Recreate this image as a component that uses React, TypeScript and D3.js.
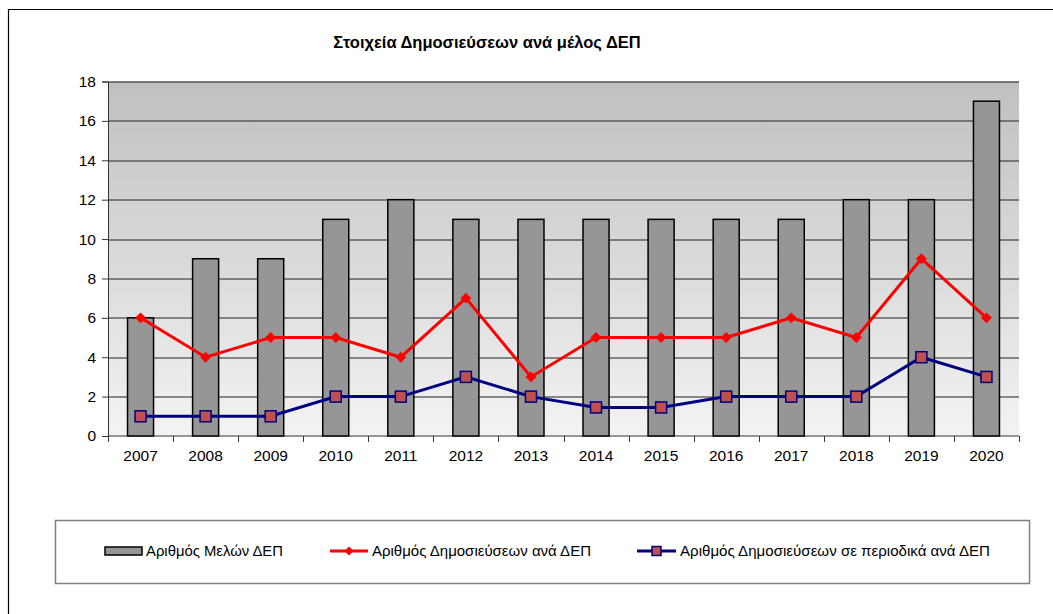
import React, { useEffect, useRef } from 'react'
import * as d3 from 'd3'

// chart data
const years = ['2007', '2008', '2009', '2010', '2011', '2012', '2013', '2014', '2015', '2016', '2017', '2018', '2019', '2020']
const members = [6, 9, 9, 11, 12, 11, 11, 11, 11, 11, 11, 12, 12, 17]
const pubsPerMember = [6, 4, 5, 5, 4, 7, 3, 5, 5, 5, 6, 5, 9, 6]
const journalPubsPerMember = [1, 1, 1, 2, 2, 3, 2, 1.45, 1.45, 2, 2, 2, 4, 3]
const yTicks = [0, 2, 4, 6, 8, 10, 12, 14, 16, 18]

const title = 'Στοιχεία Δημοσιεύσεων ανά μέλος ΔΕΠ'
const legendLabels = ['Αριθμός Μελών ΔΕΠ', 'Αριθμός Δημοσιεύσεων  ανά ΔΕΠ', 'Αριθμός Δημοσιεύσεων  σε περιοδικά ανά ΔΕΠ']

export default function App() {
  const ref = useRef<SVGSVGElement>(null)

  useEffect(() => {
    const W = 1053, H = 614
    const margin = { top: 81.5, right: 34, bottom: 178, left: 108 }
    const width = W - margin.left - margin.right
    const height = H - margin.top - margin.bottom
    const font = 'Liberation Sans, Arial, sans-serif'

    const svg = d3.select(ref.current)
    svg.selectAll('*').remove()

    // outer frame (only top and left edges visible)
    svg.append('path')
      .attr('d', 'M8.5,614 L8.5,9.5 L1053,9.5')
      .attr('fill', 'none')
      .attr('stroke', '#000')
      .attr('stroke-width', 1.2)

    // title
    svg.append('text')
      .attr('x', 487)
      .attr('y', 48)
      .attr('text-anchor', 'middle')
      .attr('font-family', font)
      .attr('font-weight', 'bold')
      .attr('font-size', 16.5)
      .text(title)

    // gradient for plot background
    const defs = svg.append('defs')
    const grad = defs.append('linearGradient')
      .attr('id', 'bg')
      .attr('x1', 0).attr('y1', 0).attr('x2', 0).attr('y2', 1)
    grad.append('stop').attr('offset', '0%').attr('stop-color', '#c0c0c0')
    grad.append('stop').attr('offset', '100%').attr('stop-color', '#f3f3f3')

    const g = svg.append('g')
      .attr('transform', 'translate(' + margin.left + ',' + margin.top + ')')

    const x = d3.scaleBand()
      .domain(years)
      .range([0, width])
      .paddingInner(0.6)
      .paddingOuter(0.3)

    const y = d3.scaleLinear()
      .domain([0, 18])
      .range([height, 0])

    g.append('rect')
      .attr('width', width)
      .attr('height', height)
      .attr('fill', 'url(#bg)')

    // grid lines
    g.append('g')
      .selectAll('line')
      .data(yTicks.filter(d => d > 0))
      .enter()
      .append('line')
      .attr('x1', 0)
      .attr('x2', width)
      .attr('y1', d => Math.round(y(d)) + 0.5)
      .attr('y2', d => Math.round(y(d)) + 0.5)
      .attr('stroke', '#222')
      .attr('stroke-width', 1)

    // axes
    const yAxis = d3.axisLeft(y).tickValues(yTicks).tickSize(6).tickPadding(6)
    const gY = g.append('g').call(yAxis)
    gY.select('.domain').attr('stroke', '#333')
    gY.selectAll('.tick line').attr('stroke', '#333')
    gY.selectAll('.tick text')
      .attr('font-size', 15.5)
      .attr('font-family', font)
      .attr('fill', '#000')

    const gX = g.append('g').attr('transform', 'translate(0,' + height + ')')
    gX.append('line')
      .attr('x1', 0).attr('x2', width)
      .attr('stroke', '#333')
    gX.selectAll('.xtick')
      .data(d3.range(years.length + 1))
      .enter()
      .append('line')
      .attr('x1', d => Math.round(d * width / years.length) + 0.5)
      .attr('x2', d => Math.round(d * width / years.length) + 0.5)
      .attr('y1', 0).attr('y2', 6)
      .attr('stroke', '#333')
    gX.selectAll('.xlabel')
      .data(years)
      .enter()
      .append('text')
      .attr('x', d => (x(d) as number) + x.bandwidth() / 2)
      .attr('y', 25)
      .attr('text-anchor', 'middle')
      .attr('font-size', 15.5)
      .attr('font-family', font)
      .text(d => d)

    // bars
    g.append('g')
      .selectAll('rect')
      .data(members)
      .enter()
      .append('rect')
      .attr('x', (d, i) => x(years[i]) as number)
      .attr('y', d => y(d))
      .attr('width', x.bandwidth())
      .attr('height', d => height - y(d))
      .attr('fill', '#969696')
      .attr('stroke', '#000')
      .attr('stroke-width', 1.5)

    const cx = (i: number) => (x(years[i]) as number) + x.bandwidth() / 2

    // red line with diamonds
    g.append('path')
      .datum(pubsPerMember)
      .attr('d', d3.line<number>().x((d, i) => cx(i)).y(d => y(d)))
      .attr('fill', 'none')
      .attr('stroke', '#ff0000')
      .attr('stroke-width', 3)
    g.append('g')
      .selectAll('path')
      .data(pubsPerMember)
      .enter()
      .append('path')
      .attr('d', d3.symbol().type(d3.symbolDiamond2).size(75)())
      .attr('transform', (d, i) => 'translate(' + cx(i) + ',' + y(d) + ')')
      .attr('fill', '#ff0000')

    // navy line with squares
    g.append('path')
      .datum(journalPubsPerMember)
      .attr('d', d3.line<number>().x((d, i) => cx(i)).y(d => y(d)))
      .attr('fill', 'none')
      .attr('stroke', '#000080')
      .attr('stroke-width', 3)
    g.append('g')
      .selectAll('rect')
      .data(journalPubsPerMember)
      .enter()
      .append('rect')
      .attr('x', (d, i) => cx(i) - 5.5)
      .attr('y', d => y(d) - 5.5)
      .attr('width', 11)
      .attr('height', 11)
      .attr('fill', '#c0504d')
      .attr('stroke', '#000080')
      .attr('stroke-width', 1.5)

    // legend
    const lg = svg.append('g')
    lg.append('rect')
      .attr('x', 55.5).attr('y', 520.5)
      .attr('width', 974).attr('height', 63)
      .attr('fill', '#fff')
      .attr('stroke', '#808080')
      .attr('stroke-width', 1.5)

    const ly = 551
    lg.append('rect')
      .attr('x', 105).attr('y', ly - 4)
      .attr('width', 37).attr('height', 8)
      .attr('fill', '#969696')
      .attr('stroke', '#000')
      .attr('stroke-width', 1.5)

    lg.append('line')
      .attr('x1', 330).attr('x2', 368).attr('y1', ly).attr('y2', ly)
      .attr('stroke', '#ff0000').attr('stroke-width', 3)
    lg.append('path')
      .attr('d', d3.symbol().type(d3.symbolDiamond2).size(50)())
      .attr('transform', 'translate(349,' + ly + ')')
      .attr('fill', '#ff0000')

    lg.append('line')
      .attr('x1', 637).attr('x2', 676).attr('y1', ly).attr('y2', ly)
      .attr('stroke', '#000080').attr('stroke-width', 3)
    lg.append('rect')
      .attr('x', 652).attr('y', ly - 4.5)
      .attr('width', 9).attr('height', 9)
      .attr('fill', '#c0504d')
      .attr('stroke', '#000080')
      .attr('stroke-width', 1.5)

    const legendPos = [
      { x: 146, w: 137 },
      { x: 372, w: 219 },
      { x: 680, w: 310 }
    ]
    lg.selectAll('.ltext')
      .data(legendLabels)
      .enter()
      .append('text')
      .attr('x', (d, i) => legendPos[i].x)
      .attr('y', ly + 5)
      .attr('font-size', 14)
      .attr('font-family', font)
      .attr('textLength', (d, i) => legendPos[i].w)
      .attr('lengthAdjust', 'spacingAndGlyphs')
      .text(d => d)
  }, [])

  return (
    <svg
      ref={ref}
      width={1053}
      height={614}
      style={{ position: 'absolute', left: 0, top: 0, background: '#fff' }}
    />
  )
}
